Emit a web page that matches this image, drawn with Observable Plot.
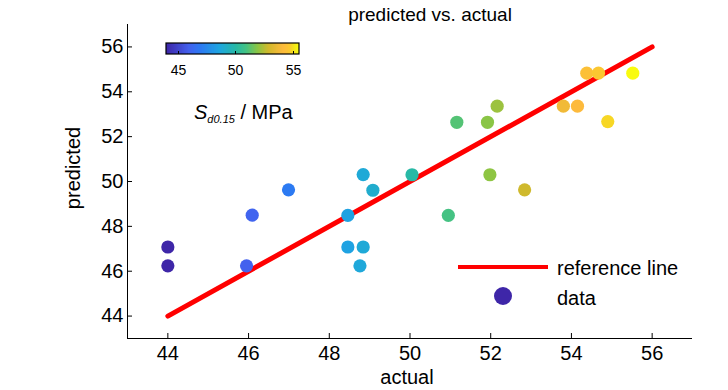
<!DOCTYPE html>
<html><head><meta charset="utf-8">
<script src="https://cdn.jsdelivr.net/npm/d3@7"></script>
<script src="https://cdn.jsdelivr.net/npm/@observablehq/plot@0.6"></script>
<style>
body{margin:0;background:#fff;font-family:"Liberation Sans",Arial,sans-serif;}
#wrap{position:relative;width:728px;height:390px;overflow:hidden;background:#fff;}
.ov{position:absolute;color:#000;white-space:nowrap;line-height:1;}
</style></head><body><div id="wrap"></div>
<script>
// ---- data ----
const actual    = [44.00,44.00,45.95,46.09,46.99,48.46,48.84,49.08,48.46,48.84,48.76,50.05,50.95,51.16,51.92,52.16,51.98,52.84,53.80,54.15,54.38,54.67,55.52,54.90];
const predicted = [47.08,46.24,46.24,48.50,49.63,48.49,50.31,49.61,47.08,47.08,46.24,50.30,48.49,52.64,52.64,53.36,50.30,49.63,53.36,53.36,54.83,54.83,54.83,52.67];
const refLine = [44, 56];
const xTicks = [44, 46, 48, 50, 52, 54, 56];
const yTicks = [44, 46, 48, 50, 52, 54, 56];
const cbTicks = [45, 50, 55];
const xDomain = [43, 57];
const yDomain = [43, 57];
const colorDomain = [44.00, 55.52];
const titleText = "predicted vs. actual";
const xLabel = "actual";
const yLabel = "predicted";
const legendLabels = ["reference line", "data"];

// parula-like colormap
const parulaT = [0, 0.17, 0.26, 0.40, 0.52, 0.60, 0.69, 0.77, 0.88, 0.93, 0.96, 1];
const parulaC = ["#3e26a8","#4361ee","#2c7af2","#1ea6e0","#26b8a8","#42c285","#8cc544","#d1b92c","#fdba3c","#fbc830","#f3e41c","#f9fb0e"];
const parulaScale = d3.scaleLinear().domain(parulaT).range(parulaC).interpolate(d3.interpolateRgb).clamp(true);
const parula = (t) => parulaScale(t);

const font = '"Liberation Sans", Arial, sans-serif';
const colorOpts = {type: "linear", domain: colorDomain, interpolate: parula};
const idx = d3.range(actual.length);

const chart = Plot.plot({
  width: 728, height: 390,
  marginLeft: 127, marginRight: 36, marginTop: 24, marginBottom: 52,
  style: {fontFamily: font, fontSize: "20px", color: "#000", background: "#fff"},
  x: {domain: xDomain},
  y: {domain: yDomain},
  color: colorOpts,
  marks: [
    Plot.line(refLine, {x: d => d, y: d => d, stroke: "#ff0000", strokeWidth: 5}),
    Plot.dot(idx, {x: i => actual[i], y: i => predicted[i], r: 6.6, fill: i => actual[i], stroke: "none"}),
    Plot.ruleX([xDomain[0]], {stroke: "#000", strokeWidth: 1}),
    Plot.ruleY([yDomain[0]], {stroke: "#000", strokeWidth: 1}),
    Plot.axisX({ticks: xTicks, tickSize: -5, tickPadding: 12, label: null, fontSize: 20}),
    Plot.axisY({ticks: yTicks, tickSize: -5, tickPadding: 9, label: null, fontSize: 20})
  ]
});

const wrap = document.getElementById("wrap");
chart.style.position = "absolute";
chart.style.left = "0px";
chart.style.top = "0px";
wrap.appendChild(chart);

function ov(html, css) {
  const d = document.createElement("div");
  d.className = "ov";
  d.innerHTML = html;
  Object.assign(d.style, css);
  wrap.appendChild(d);
  return d;
}

// title & axis labels
ov(titleText, {left: "430px", top: "5px", fontSize: "19px", transform: "translateX(-50%)"});
ov(xLabel, {left: "407px", top: "367px", fontSize: "20px", transform: "translateX(-50%)"});
ov(yLabel, {left: "73px", top: "168px", fontSize: "20px", transform: "translate(-50%,-50%) rotate(-90deg)"});

// colorbar
const cb = Plot.legend({
  color: colorOpts,
  ticks: cbTicks,
  tickFormat: d3.format("d"),
  width: 135, height: 44, marginTop: 2, marginBottom: 31, marginLeft: 1, marginRight: 1,
  tickSize: 8, label: null,
  style: {fontFamily: font, fontSize: "14px", color: "#000", background: "transparent"}
});
const cbSvg = cb.tagName && cb.tagName.toLowerCase() === "svg" ? cb : cb.querySelector("svg");
if (cbSvg) {
  d3.select(cbSvg).selectAll(".tick line").attr("y1", -3).attr("y2", 0);
  d3.select(cbSvg).append("rect").attr("x", 1).attr("y", 2).attr("width", 133).attr("height", 11)
    .attr("fill", "none").attr("stroke", "#000").attr("stroke-width", 1.2);
}
cb.style.position = "absolute";
cb.style.left = "165px";
cb.style.top = "41px";
cb.style.margin = "0";
wrap.appendChild(cb);

ov('<i>S</i><sub style="font-size:11px;vertical-align:-4px"><i>d0.15</i></sub> / MPa', {left: "194px", top: "102px", fontSize: "20px"});

// legend
const cScale = Plot.scale({color: colorOpts});
ov(`<svg width="100" height="60" style="display:block">
  <line x1="8" y1="8" x2="98" y2="8" stroke="#ff0000" stroke-width="4"/>
  <circle cx="53" cy="37" r="9" fill="${cScale.apply(colorDomain[0])}"/></svg>`, {left: "450px", top: "259px"});
ov(legendLabels[0], {left: "557px", top: "258px", fontSize: "20px"});
ov(legendLabels[1], {left: "557px", top: "288px", fontSize: "20px"});
</script></body></html>
